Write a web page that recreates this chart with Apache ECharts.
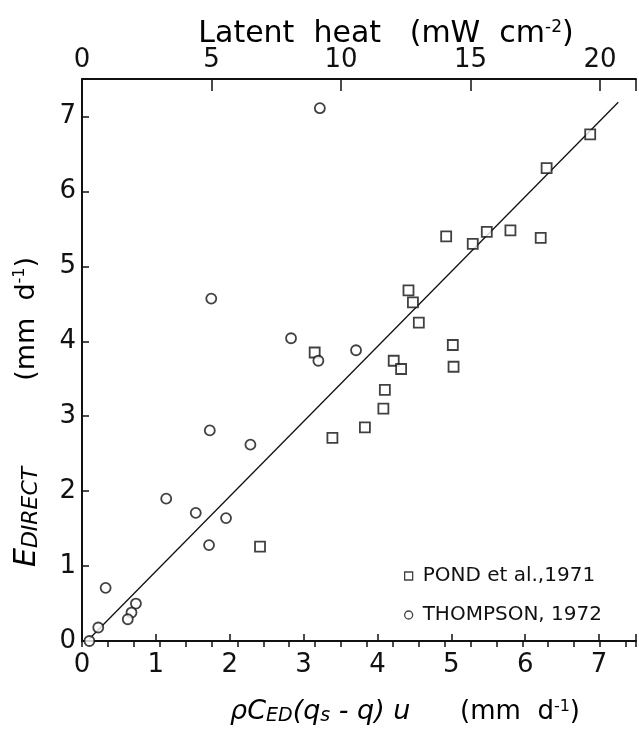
<!DOCTYPE html>
<html>
<head>
<meta charset="utf-8" />
<script src="https://cdn.jsdelivr.net/npm/echarts@6/dist/echarts.min.js"></script>
<style type="text/css">
	html, body, #main {
	width: 100%;
	height: 100%;
	margin: 0;
	background: #fff;
}
</style>
</head>
<body>
	<div id="main"></div>
	<script>
		// E_DIRECT vs bulk estimate (mm/d)
		var pondX = [6.88, 6.29, 4.93, 5.29, 5.48, 5.80, 6.21, 4.42, 4.48, 4.56, 5.02, 5.03, 3.15, 4.22, 4.32, 4.10, 4.08, 3.83, 3.39, 2.41];
		var pondY = [6.76, 6.31, 5.40, 5.30, 5.46, 5.48, 5.38, 4.68, 4.52, 4.25, 3.95, 3.66, 3.85, 3.74, 3.63, 3.35, 3.10, 2.85, 2.71, 1.26];

		var thompsonX = [3.22, 1.75, 2.83, 3.20, 3.71, 1.73, 2.28, 1.14, 1.54, 1.95, 1.72, 0.32, 0.73, 0.67, 0.62, 0.22, 0.10];
		var thompsonY = [7.11, 4.57, 4.04, 3.74, 3.88, 2.81, 2.62, 1.90, 1.71, 1.64, 1.28, 0.71, 0.50, 0.38, 0.29, 0.18, 0.00];

		// fitted line, two ends
		var fitX = [0.10, 7.26];
		var fitY = [0.03, 7.19];

		var xMax = 7.5;
		var latentPerMm = 2.852;   // mW cm-2 per mm d-1
		var legendNames = ['POND et al.,1971', 'THOMPSON, 1972'];

		function pairs(xs, ys) {
			var out = [];
			for (var i = 0; i < xs.length; i++) out.push([xs[i], ys[i]]);
			return out;
		}

		var font = "'DejaVu Sans', sans-serif";
		var ink = '#111';

		var chart = echarts.init(document.getElementById('main'));

		var option = {
			backgroundColor: '#fff',
			animation: false,
			textStyle: { fontFamily: font, color: ink },
			grid: { left: 82, right: -6, top: 79, bottom: 94 },
			legend: {
				data: [
					{ name: legendNames[0], icon: 'rect' },
					{ name: legendNames[1], icon: 'circle' }
				],
				orient: 'vertical',
				left: 404,
				top: 564,
				padding: 0,
				itemWidth: 8,
				itemHeight: 8,
				itemGap: 15,
				itemStyle: { color: '#fff', borderColor: ink, borderWidth: 1.3 },
				textStyle: { fontSize: 20, color: ink, fontFamily: font, lineHeight: 24, padding: [0, 0, 0, 5] }
			},
			xAxis: [{
				type: 'value',
				min: 0,
				max: xMax,
				interval: 1,
				position: 'bottom',
				axisLine: { onZero: false, lineStyle: { color: ink, width: 2 } },
				axisTick: { inside: true, length: 7, lineStyle: { color: ink, width: 1.5 } },
				axisLabel: {
					fontSize: 26, color: ink, margin: 11,
					formatter: function (v) { return v % 1 === 0 ? v : ''; }
				},
				splitLine: { show: false }
			}, {
				type: 'value',
				min: 0,
				max: xMax * latentPerMm,
				interval: 5,
				position: 'top',
				axisLine: { onZero: false, lineStyle: { color: ink, width: 2 } },
				axisTick: { inside: true, length: 12, lineStyle: { color: ink, width: 1.5 } },
				axisLabel: {
					fontSize: 26, color: ink, margin: 6,
					formatter: function (v) { return v % 5 === 0 ? v : ''; }
				},
				splitLine: { show: false }
			}, {
				type: 'value',
				min: 0,
				max: xMax * latentPerMm,
				interval: 1,
				position: 'top',
				axisLine: { show: false },
				axisTick: { inside: true, length: 6, lineStyle: { color: ink, width: 1.5 } },
				axisLabel: { show: false },
				splitLine: { show: false }
			}],
			yAxis: {
				type: 'value',
				min: 0,
				max: 7.5,
				interval: 1,
				axisLine: { onZero: false, lineStyle: { color: ink, width: 2 } },
				axisTick: { inside: true, length: 7, lineStyle: { color: ink, width: 1.5 } },
				axisLabel: {
					fontSize: 26, color: ink, margin: 6,
					formatter: function (v) { return v % 1 === 0 ? v : ''; }
				},
				splitLine: { show: false }
			},
			graphic: [{
				type: 'text',
				x: 386, y: 34,
				style: {
					text: '{n|Latent  heat   (mW  cm}{sup|-2}{n|)}',
					align: 'center', verticalAlign: 'middle',
					rich: {
						n: { fontSize: 30, fontFamily: font, color: ink },
						sup: { fontSize: 17, fontFamily: font, color: ink, verticalAlign: 'top' }
					}
				}
			}, {
				type: 'text',
				x: 405, y: 712,
				style: {
					text: '{f|\u03c1C}{fs|ED}{f|(q}{fs|s}{f| - q) u}{n|      (mm  d}{sup|-1}{n|)}',
					align: 'center', verticalAlign: 'middle',
					rich: {
						f: { fontSize: 27, fontStyle: 'italic', fontFamily: font, color: ink },
						fs: { fontSize: 19, fontStyle: 'italic', fontFamily: font, color: ink, verticalAlign: 'bottom' },
						n: { fontSize: 26, fontFamily: font, color: ink },
						sup: { fontSize: 16, fontFamily: font, color: ink, verticalAlign: 'top' }
					}
				}
			}, {
				type: 'text',
				x: 27, y: 412,
				rotation: Math.PI / 2,
				style: {
					text: '{f|E}{fs|DIRECT}{n|          (mm  d}{sup|-1}{n|)}',
					align: 'center', verticalAlign: 'middle',
					rich: {
						f: { fontSize: 30, fontStyle: 'italic', fontFamily: font, color: ink },
						fs: { fontSize: 22, fontStyle: 'italic', fontFamily: font, color: ink, verticalAlign: 'bottom' },
						n: { fontSize: 27, fontFamily: font, color: ink },
						sup: { fontSize: 16, fontFamily: font, color: ink, verticalAlign: 'top' }
					}
				}
			}],
			series: [{
				type: 'line',
				name: 'fit',
				data: pairs(fitX, fitY),
				symbol: 'none',
				lineStyle: { color: ink, width: 1.3 },
				silent: true,
				z: 1
			}, {
				type: 'scatter',
				name: legendNames[0],
				data: pairs(pondX, pondY),
				symbol: 'rect',
				symbolSize: 10,
				itemStyle: { color: '#fff', borderColor: ink, borderWidth: 1.8 },
				z: 3
			}, {
				type: 'scatter',
				name: legendNames[1],
				data: pairs(thompsonX, thompsonY),
				symbol: 'circle',
				symbolSize: 10,
				itemStyle: { color: '#fff', borderColor: ink, borderWidth: 1.8 },
				z: 3
			}]
		};

		chart.setOption(option);

		window.onresize = function () {
			chart.resize();
		};
	</script>
</body>
</html>
